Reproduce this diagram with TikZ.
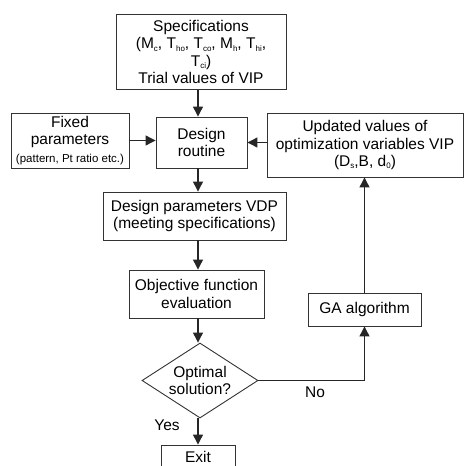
\documentclass[tikz,border=0pt]{standalone}
\usepackage{fontspec}
\setmainfont{Liberation Sans}
\usetikzlibrary{arrows.meta,shapes.geometric}
\newcommand{\sbs}[1]{\raisebox{-0.3ex}{\fontsize{8}{8}\selectfont #1}}
\begin{document}
\begin{tikzpicture}[x=1pt,y=-1pt,
  box/.style={draw=black!80, line width=0.9pt, align=center, inner sep=0pt,
    font=\fontsize{15.5}{17.5}\selectfont},
  lbl/.style={inner sep=0pt, font=\fontsize{15.5}{17.5}\selectfont},
  arr/.style={line width=1.2pt, draw=black!85, -{Triangle[length=10pt,width=10pt]}}]
\useasboundingbox (0,0) rectangle (464,466);
\clip (0,0) rectangle (464,466);
\node[box, minimum width=170, minimum height=75] (spec) at (201,52)
  {Specifications\\(M\sbs{c}, T\sbs{ho}, T\sbs{co}, M\sbs{h}, T\sbs{hi},\\T\sbs{ci})\\Trial values of VIP};
\node[box, minimum width=118, minimum height=55] (fixed) at (70,140.5)
  {Fixed\\parameters\\{\fontsize{11.5}{13}\selectfont (pattern, Pt ratio etc.)}};
\node[box, minimum width=91, minimum height=51] (des) at (201.5,142.5) {Design\\routine};
\node[box, minimum width=196, minimum height=64] (upd) at (365,145)
  {Updated values of\\optimization variables VIP\\(D\sbs{s},B, d\sbs{0})};
\node[box, minimum width=183, minimum height=48] (vdp) at (194.5,216)
  {Design parameters VDP\\(meeting specifications)};
\node[box, minimum width=135, minimum height=48] (obj) at (196.5,294)
  {Objective function\\evaluation};
\node[box, diamond, shape aspect=1.53, minimum width=116, minimum height=75] (opt) at (200,380.5)
  {Optimal\\solution?};
\node[box, minimum width=74, minimum height=30] (exit) at (198,460) {};
\node[lbl] (exitt) at (198,457) {Exit};
\node[box, minimum width=113, minimum height=33] (ga) at (364.5,309.5) {GA algorithm};
\node[lbl] (no) at (315,392) {No};
\node[lbl] (yes) at (167,425) {Yes};
\coordinate (mx) at (198,0);
\draw[arr] (spec.south -| mx) -- (des.north -| mx);
\draw[arr] (fixed.east) -- (fixed.east -| des.west);
\draw[arr] (upd.west |- des.east) -- (des.east);
\draw[arr] (des.south -| mx) -- (vdp.north -| mx);
\draw[arr] (vdp.south -| mx) -- (obj.north -| mx);
\draw[arr] (obj.south -| mx) -- (opt.north -| mx);
\draw[arr] (opt.south -| mx) -- (exit.north -| mx);
\draw[arr] (opt.east) -| (ga.south);
\draw[arr] (ga.north) -- (upd.south -| ga.north);
\end{tikzpicture}
\end{document}
